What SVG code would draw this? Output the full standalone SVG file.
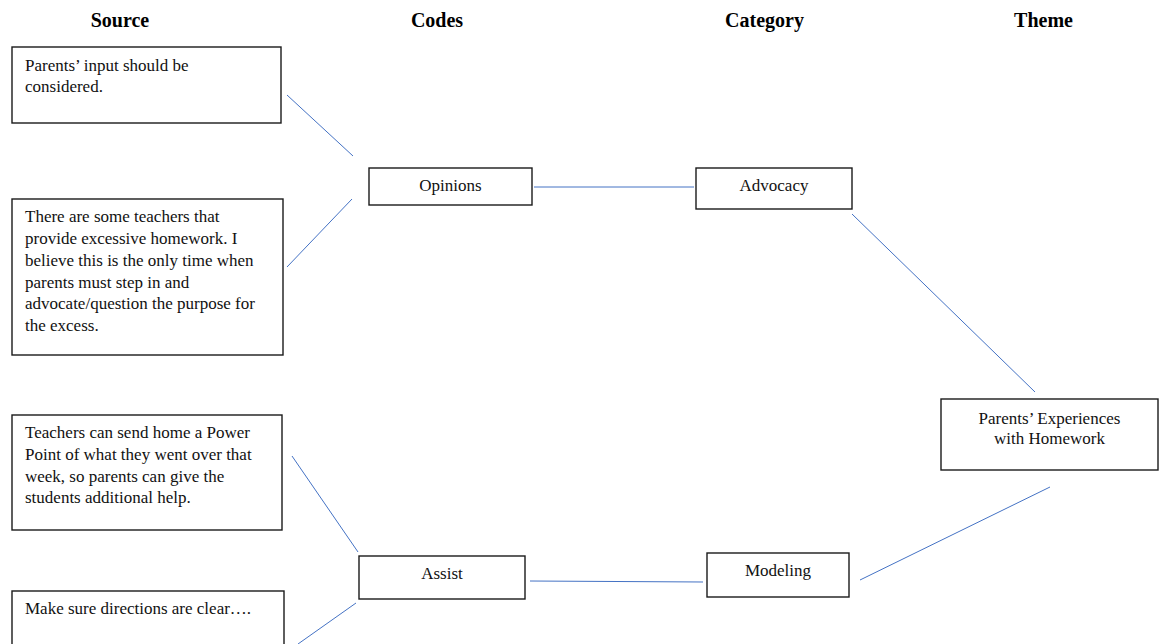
<svg xmlns="http://www.w3.org/2000/svg" width="1167" height="644" viewBox="0 0 1167 644">
<style>
.box{fill:#fff;stroke:#1a1a1a;stroke-width:1.4}
.t{font-family:"Liberation Serif","Times New Roman",serif;font-size:17px;fill:#111}
.c{text-anchor:middle}
.h{font-family:"Liberation Serif","Times New Roman",serif;font-size:20px;font-weight:bold;fill:#000;text-anchor:middle}
.ln{stroke:#4472C4;stroke-width:1;fill:none}
</style>
<rect width="1167" height="644" fill="#fff"/>
<g id="headers">
<text class="h" x="120" y="27">Source</text>
<text class="h" x="437" y="27">Codes</text>
<text class="h" x="764.5" y="27">Category</text>
<text class="h" x="1043.5" y="27">Theme</text>
</g>
<g id="connectors">
<line class="ln" x1="287" y1="95" x2="353" y2="156"/>
<line class="ln" x1="287" y1="267" x2="352" y2="199"/>
<line class="ln" x1="534" y1="187" x2="694" y2="187"/>
<line class="ln" x1="852" y1="214" x2="1035" y2="392"/>
<line class="ln" x1="292" y1="456" x2="358" y2="552"/>
<line class="ln" x1="298" y1="644" x2="356" y2="603"/>
<line class="ln" x1="530" y1="581" x2="703" y2="582"/>
<line class="ln" x1="860" y1="580" x2="1050" y2="487"/>
</g>
<g id="src1">
<rect class="box" x="12" y="47" width="269" height="76"/>
<text class="t" x="25" y="71">Parents’ input should be</text>
<text class="t" x="25" y="92">considered.</text>
</g>
<g id="src2">
<rect class="box" x="12" y="199" width="271" height="156"/>
<text class="t" x="25" y="222">There are some teachers that</text>
<text class="t" x="25" y="244">provide excessive homework. I</text>
<text class="t" x="25" y="266">believe this is the only time when</text>
<text class="t" x="25" y="287.5">parents must step in and</text>
<text class="t" x="25" y="309">advocate/question the purpose for</text>
<text class="t" x="25" y="330.5">the excess.</text>
</g>
<g id="src3">
<rect class="box" x="12" y="415" width="270" height="115"/>
<text class="t" x="25" y="438">Teachers can send home a Power</text>
<text class="t" x="25" y="460">Point of what they went over that</text>
<text class="t" x="25" y="481.5">week, so parents can give the</text>
<text class="t" x="25" y="503">students additional help.</text>
</g>
<g id="src4">
<rect class="box" x="12" y="591" width="272" height="80"/>
<text class="t" x="25" y="614">Make sure directions are clear….</text>
</g>
<g id="opinions">
<rect class="box" x="369" y="168" width="163" height="37"/>
<text class="t c" x="450.5" y="191">Opinions</text>
</g>
<g id="advocacy">
<rect class="box" x="696" y="168" width="156" height="41"/>
<text class="t c" x="774" y="191">Advocacy</text>
</g>
<g id="assist">
<rect class="box" x="359" y="556" width="166" height="43"/>
<text class="t c" x="442" y="579">Assist</text>
</g>
<g id="modeling">
<rect class="box" x="707" y="553" width="142" height="44"/>
<text class="t c" x="778" y="576">Modeling</text>
</g>
<g id="theme">
<rect class="box" x="941" y="399" width="217" height="71"/>
<text class="t c" x="1049.5" y="424">Parents’ Experiences</text>
<text class="t c" x="1049.5" y="444">with Homework</text>
</g>
</svg>
